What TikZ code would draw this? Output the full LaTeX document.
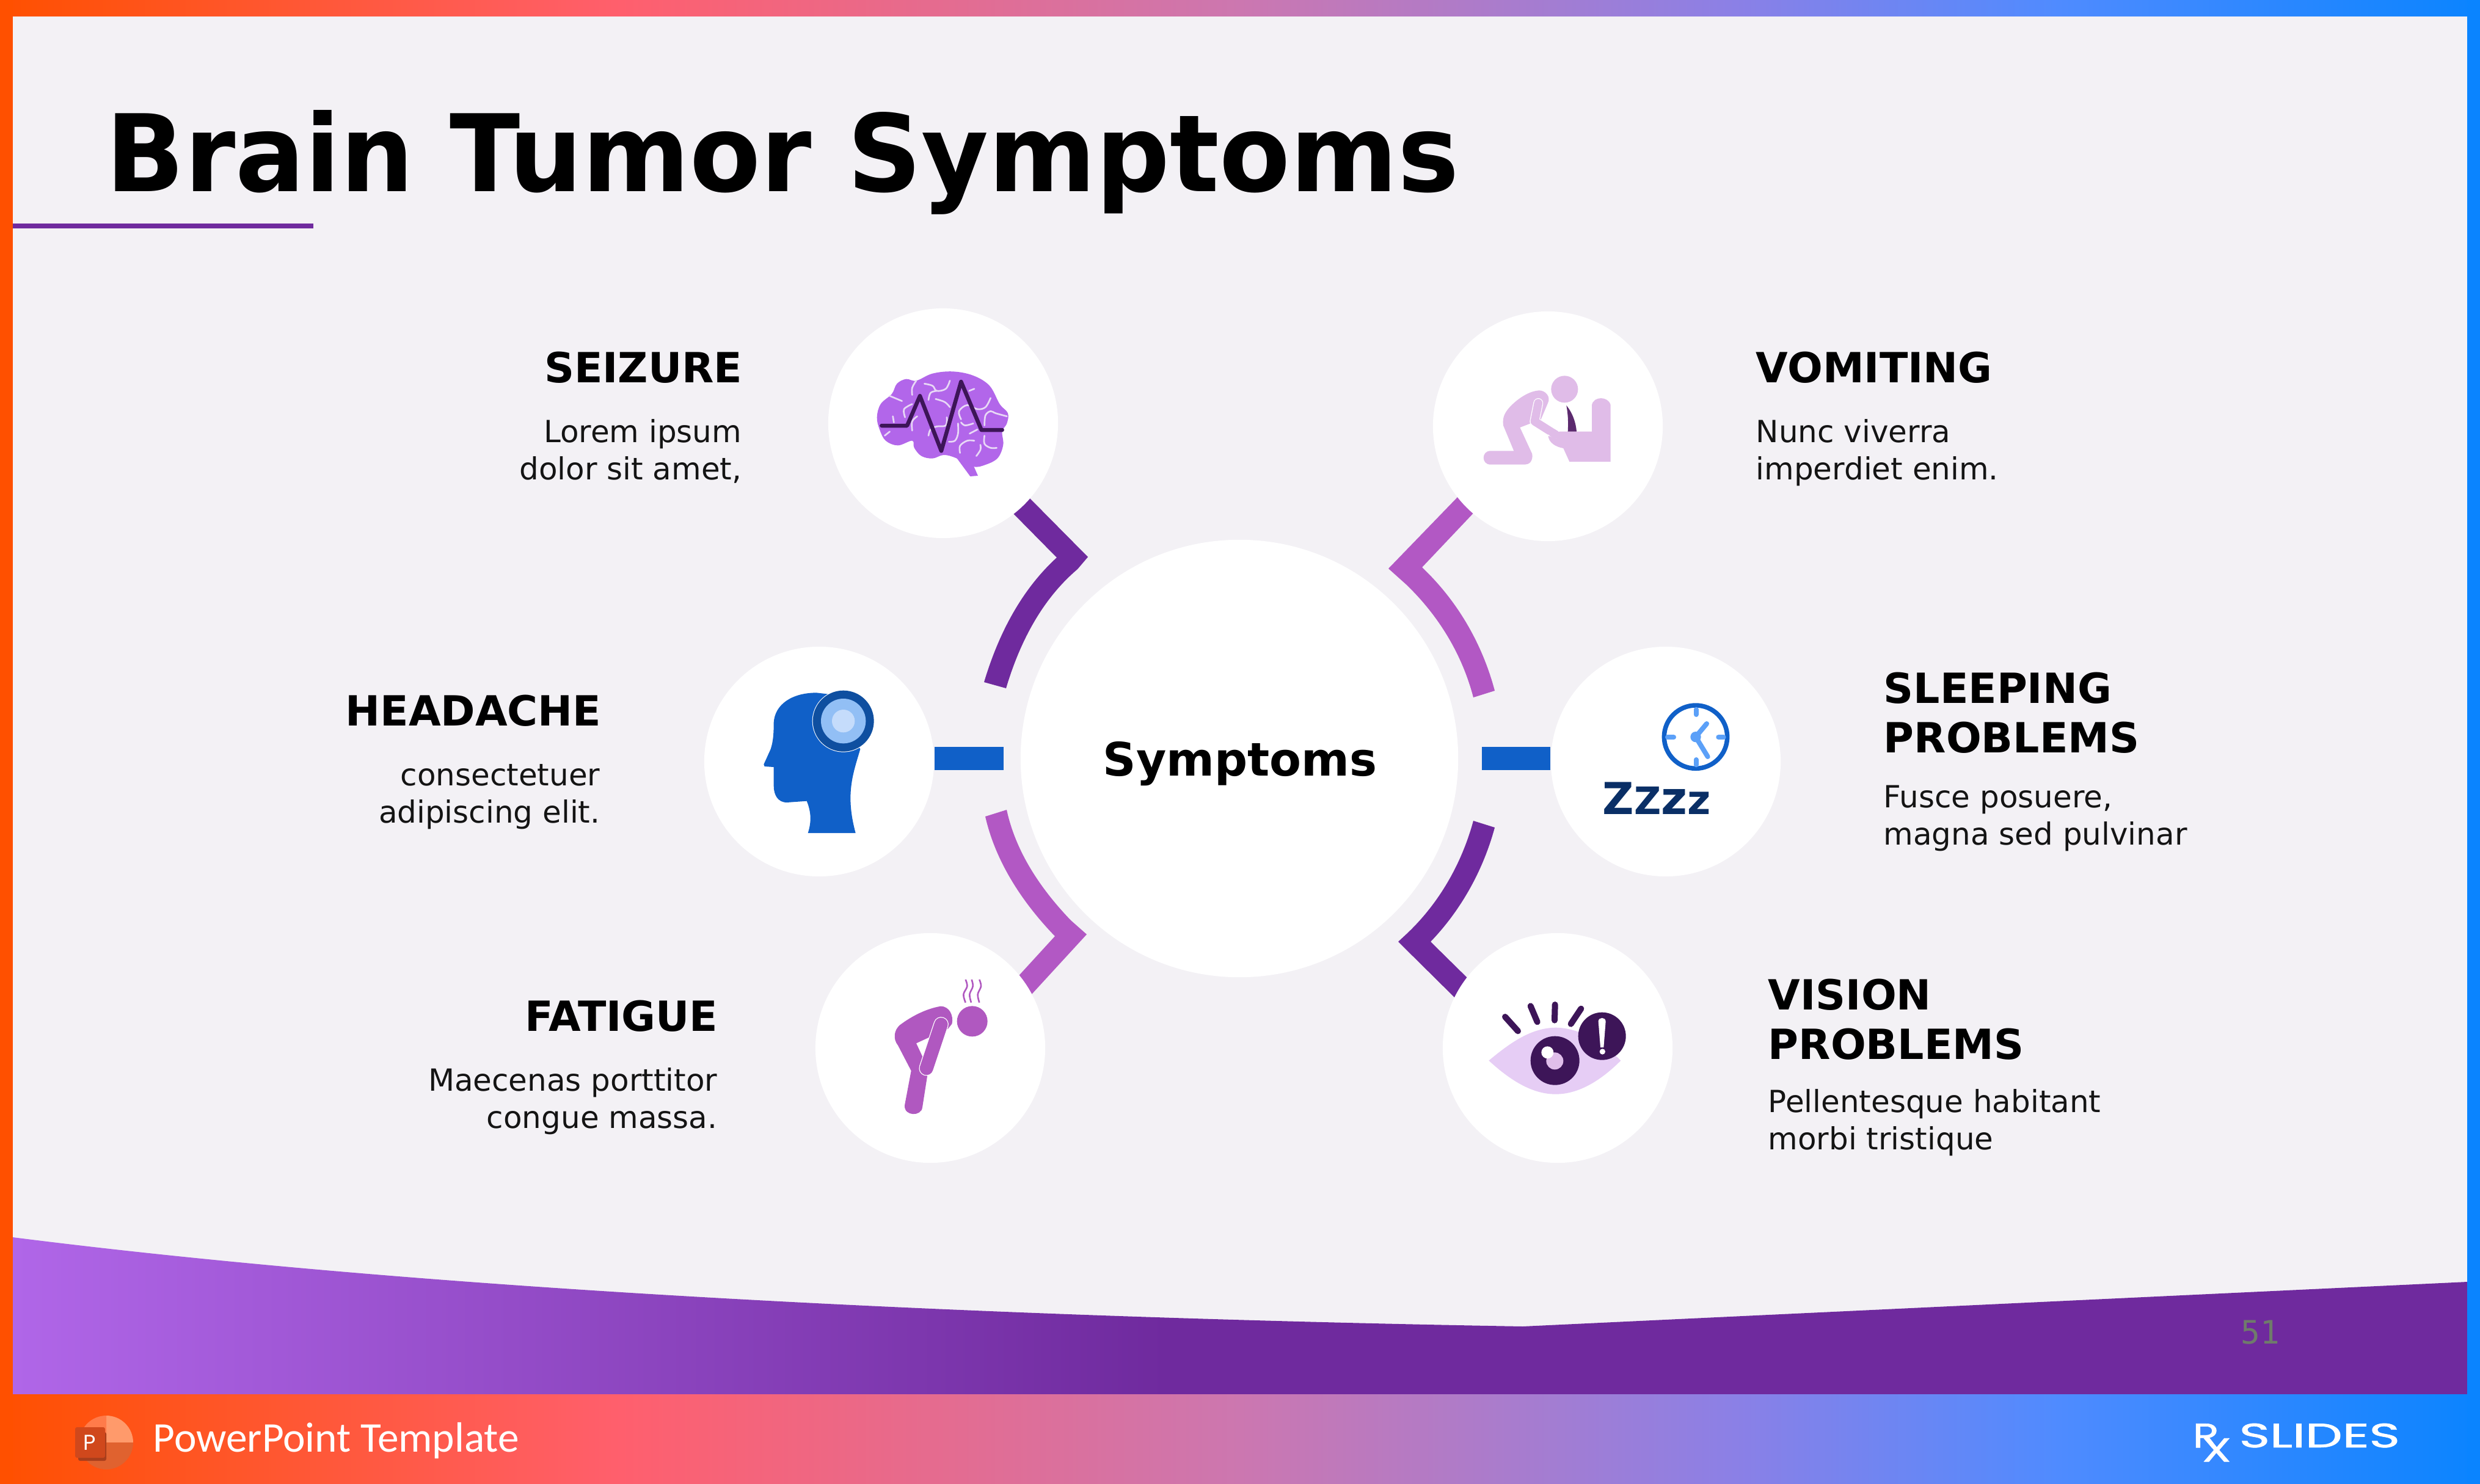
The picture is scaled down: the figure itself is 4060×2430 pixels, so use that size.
\documentclass[tikz,border=0pt]{standalone}
\usepackage{fontspec}
\usepackage{graphicx}
\setmainfont{DejaVu Sans}
\newfontfamily\footfont{Carlito}
\newfontfamily\logofont{Poppins}
\newfontfamily\logoheavy[FakeBold=1.2]{Poppins}
\newfontfamily\pagefont{DejaVu Sans Mono}
\definecolor{pageBg}{HTML}{F3F1F5}
\definecolor{deepPurple}{HTML}{6F2A9E}
\definecolor{midPurple}{HTML}{B258C4}
\definecolor{midBlue}{HTML}{1060C8}
\definecolor{brainPurple}{HTML}{B266EA}
\definecolor{darkPlum}{HTML}{3D1558}
\definecolor{paleMauve}{HTML}{E0BCE8}
\definecolor{vomitPlum}{HTML}{5C2A6E}
\definecolor{wrinkle}{HTML}{E8D8F6}
\definecolor{lensDark}{HTML}{0F4FA0}
\definecolor{lensMid}{HTML}{92BFF5}
\definecolor{lensPale}{HTML}{C5DCFB}
\definecolor{clockLight}{HTML}{5BA0F8}
\definecolor{zzzNavy}{HTML}{0A2F66}
\definecolor{fatiguePurple}{HTML}{B058C0}
\definecolor{eyePale}{HTML}{E6CDF5}
\definecolor{pupilPale}{HTML}{E0BEEA}
\definecolor{pageGrey}{HTML}{6F7B6B}
\definecolor{barA}{HTML}{FF5000}
\definecolor{barB}{HTML}{FF5F6D}
\definecolor{barC}{HTML}{CC77B0}
\definecolor{barD}{HTML}{8B80E6}
\definecolor{barE}{HTML}{4F8BFF}
\definecolor{barF}{HTML}{0A84FF}
\definecolor{waveA}{HTML}{B066E8}
\definecolor{pptUR}{HTML}{FF9A6B}
\definecolor{pptUL}{HTML}{FF7B4A}
\definecolor{pptLow}{HTML}{E0622F}
\definecolor{pptSq}{HTML}{D0481C}
\definecolor{pptShadow}{HTML}{A83E1C}
\pgfdeclarehorizontalshading{rxbar}{100bp}{color(0bp)=(barA); color(25bp)=(barA); color(37.5bp)=(barB); color(50bp)=(barC); color(60bp)=(barD); color(66.5bp)=(barE); color(75bp)=(barF); color(100bp)=(barF)}
\pgfdeclarehorizontalshading{rxwave}{100bp}{color(0bp)=(waveA); color(25bp)=(waveA); color(48.5bp)=(deepPurple); color(100bp)=(deepPurple)}
\tikzset{
  bubble/.style={circle,fill=white,minimum size=3.76cm,inner sep=0pt},
  hubdisc/.style={circle,fill=white,minimum size=7.16cm,inner sep=0pt},
  symhead/.style={inner sep=0pt,font=\fontsize{19.35}{22.76}\selectfont\bfseries,text=black},
  symbody/.style={inner sep=0pt,font=\fontsize{14.2}{17.07}\selectfont,text=black!92},
  barline/.style={line width=0.38cm,midBlue},
  wrinkleline/.style={wrinkle,line width=0.027cm,line cap=round},
  smoothline/.style={smooth,tension=.6},
}
\begin{document}
\begin{tikzpicture}[x=0.01cm,y=0.01cm,yscale=-1]
\useasboundingbox (0,0) rectangle (4060,2430);
% frame
\fill[pageBg] (0,0) rectangle (4060,2430);
\shade[shading=rxwave] (21,2026) .. controls (800,2125) and (1800,2160) .. (2493,2172) -- (4039,2099) -- (4039,2290) -- (21,2290) -- cycle;
\shade[shading=rxbar] (0,0) rectangle (4060,26);
\shade[shading=rxbar] (0,2283) rectangle (4060,2430);
\fill[barA] (0,0) rectangle (21,2430);
\fill[barF] (4039,0) rectangle (4060,2430);
% title
\node[anchor=base west,inner sep=0pt,font=\fontsize{49.8}{58}\selectfont\bfseries] (title) at (173,313) {\scalebox{.964}[1]{Brain Tumor Symptoms}};
\fill[deepPurple] (21,366) rectangle (513,374);
% chevrons, named points
\coordinate (sA) at (1680,810); \coordinate (sT) at (1781,912); \coordinate (sS) at (1764,932);
\coordinate (sE) at (1647,1127); \coordinate (sF) at (1611,1117); \coordinate (sN) at (1730,913); \coordinate (sB) at (1654,836);
\fill[deepPurple] (sA) -- (sT) -- (sS) .. controls (1705,982) and (1669,1053) .. (sE) -- (sF) .. controls (1634,1040) and (1671,967) .. (sN) -- (sB) -- cycle;
\coordinate (vA) at (2390,810); \coordinate (vT) at (2273,931); \coordinate (vS) at (2302,957);
\coordinate (vE) at (2412,1142); \coordinate (vF) at (2447,1131); \coordinate (vN) at (2328,929); \coordinate (vB) at (2417,835);
\fill[midPurple] (vA) -- (vT) -- (vS) .. controls (2355,1008) and (2393.5,1071) .. (vE) -- (vF) .. controls (2426.5,1054) and (2386,984) .. (vN) -- (vB) -- cycle;
\coordinate (fA) at (1662,1604); \coordinate (fT) at (1779,1530); \coordinate (fS) at (1753,1507);
\coordinate (fE) at (1648,1326); \coordinate (fF) at (1613,1337); \coordinate (fN) at (1727,1533); \coordinate (fB) at (1689,1628);
\fill[midPurple] (fB) -- (fT) -- (fS) .. controls (1704,1456) and (1663,1395.5) .. (fE) -- (fF) .. controls (1630,1411.6) and (1674,1478) .. (fN) -- (fA) -- cycle;
\coordinate (oA) at (2409,1608); \coordinate (oT) at (2289,1542); \coordinate (oS) at (2303,1529);
\coordinate (oE) at (2412,1344); \coordinate (oF) at (2447,1355); \coordinate (oN) at (2342,1542); \coordinate (oB) at (2388,1640);
\fill[deepPurple] (oB) -- (oT) -- (oS) .. controls (2356,1479) and (2393,1414) .. (oE) -- (oF) .. controls (2428,1425) and (2392,1490) .. (oN) -- (oA) -- cycle;
% discs
\node[hubdisc] (hub) at (2029,1242) {};
\node[bubble] (seizure) at (1544,693) {};
\node[bubble] (vomiting) at (2534,698) {};
\node[bubble] (headache) at (1341,1247) {};
\node[bubble] (sleeping) at (2727,1247) {};
\node[bubble] (fatigue) at (1523,1716) {};
\node[bubble] (vision) at (2550,1716) {};
% straight connectors
\draw[barline] (headache.east |- hub.west) -- ([xshift=-0.27cm]hub.west);
\draw[barline] (sleeping.west |- hub.east) -- ([xshift=0.38cm]hub.east);
% hub label
\node[anchor=base,inner sep=0pt,font=\fontsize{21.5}{26}\selectfont\bfseries] (hublabel) at (2030,1270) {Symptoms};
% labels
\node[symhead,anchor=base east] (t1) at (1216,626) {SEIZURE};
\node[symbody,anchor=base east,align=right] (b1) at (1215,785) {Lorem ipsum\\dolor sit amet,};
\node[symhead,anchor=base east] (t2) at (985,1188) {HEADACHE};
\node[symbody,anchor=base east,align=right] (b2) at (983,1347) {consectetuer\\adipiscing elit.};
\node[symhead,anchor=base east] (t3) at (1176,1688) {FATIGUE};
\node[symbody,anchor=base east,align=right] (b3) at (1175,1847) {Maecenas porttitor\\congue massa.};
\node[symhead,anchor=base west] (t4) at (2874,626) {VOMITING};
\node[symbody,anchor=base west,align=left] (b4) at (2874,785) {Nunc viverra\\imperdiet enim.};
\node[symhead,anchor=base west,align=left] (t5) at (3083,1232) {SLEEPING\\PROBLEMS};
\node[symbody,anchor=base west,align=left] (b5) at (3083,1383) {Fusce posuere,\\magna sed pulvinar};
\node[symhead,anchor=base west,align=left] (t6) at (2894,1734) {VISION\\PROBLEMS};
\node[symbody,anchor=base west,align=left] (b6) at (2894,1882) {Pellentesque habitant\\morbi tristique};
% brain icon
\begin{scope}[shift={(1300,480)},scale=1/3]
\fill[brainPurple] plot[smooth cycle,tension=.6] coordinates {(600,430) (680,395) (780,385) (880,405) (960,455) (1010,545) (1050,590) (1045,640) (1022,680) (1027,745) (1000,810) (940,843) (880,852) (795,810) (735,795) (680,812) (625,800) (590,760) (580,725) (510,748) (450,725) (420,670) (407,610) (425,545) (480,495) (505,445) (550,422)};
\fill[brainPurple] (795,805) -- (865,900) -- (903,897) -- (880,845) -- (840,795) -- cycle;
\draw[wrinkleline] plot[smoothline] coordinates {(580,500) (580,465) (600,430)};
\draw[wrinkleline] plot[smoothline] coordinates {(470,505) (530,530)};
\draw[wrinkleline] plot[smoothline] coordinates {(640,445) (680,455) (700,480) (745,470) (765,430)};
\draw[wrinkleline] plot[smoothline] coordinates {(660,525) (670,490) (700,480)};
\draw[wrinkleline] plot[smoothline] coordinates {(695,520) (740,535) (765,560)};
\draw[wrinkleline] plot[smoothline] coordinates {(885,470) (860,480)};
\draw[wrinkleline] plot[smoothline] coordinates {(545,610) (540,570) (580,545)};
\draw[wrinkleline] plot[smoothline] coordinates {(485,605) (490,635)};
\draw[wrinkleline] plot[smoothline] coordinates {(445,700) (470,680)};
\draw[wrinkleline] plot[smoothline] coordinates {(580,675) (580,630) (605,605)};
\draw[wrinkleline] plot[smoothline] coordinates {(660,700) (670,670) (700,655) (745,650) (750,610)};
\draw[wrinkleline] plot[smoothline] coordinates {(820,620) (810,580) (850,550) (900,570) (940,560) (965,515)};
\draw[wrinkleline] plot[smoothline] coordinates {(1045,605) (990,590) (965,580) (940,600) (935,650)};
\draw[wrinkleline] plot[smoothline] coordinates {(820,635) (840,650) (880,640)};
\draw[wrinkleline] plot[smoothline] coordinates {(862,690) (900,670)};
\draw[wrinkleline] plot[smoothline] coordinates {(760,730) (790,725) (805,690) (805,640)};
\draw[wrinkleline] plot[smoothline] coordinates {(815,785) (815,750) (850,725) (885,725)};
\draw[wrinkleline] plot[smoothline] coordinates {(895,800) (915,770) (915,745)};
\draw[wrinkleline] plot[smoothline] coordinates {(935,700) (935,740) (965,760) (995,760)};
\draw[darkPlum,line width=0.065cm,line cap=round,line join=round] (430,651) -- (555,651) -- (618,505) -- (723,775) -- (820,435) -- (920,672) -- (1022,672);
\end{scope}
% vomiting icon
\begin{scope}[shift={(2300,480)},scale=1/3]
\fill[paleMauve] (784,472) circle[radius=66];
\fill[paleMauve] (660,478) .. controls (690,478) and (718,510) .. (702,540) -- (668,620) -- (565,660) -- (625,790) .. controls (630,825) and (610,842) .. (590,842) -- (420,842) .. controls (375,842) and (375,775) .. (420,775) -- (535,775) -- (483,650) .. controls (478,610) and (490,590) .. (510,565) .. controls (550,520) and (610,480) .. (660,478) -- cycle;
\draw[white,line width=0.16cm,line cap=round,line join=round] (655,540) -- (637,630) -- (740,695);
\draw[paleMauve,line width=0.135cm,line cap=round,line join=round] (655,540) -- (637,630) -- (740,695);
\fill[paleMauve] (918,680) -- (918,550) .. controls (925,505) and (1000,505) .. (1010,550) -- (1010,828) -- (808,828) -- (778,762) .. controls (740,755) and (705,735) .. (703,697) -- (760,680) -- cycle;
\draw[white,line width=0.02cm] (703,697) -- (745,712);
\draw[paleMauve,line width=0.135cm,line cap=round] (725,686) -- (740,695);
\fill[vomitPlum] (793,552) .. controls (825,590) and (840,640) .. (843,680) -- (800,680) .. controls (803,630) and (800,590) .. (793,552) -- cycle;
\end{scope}
% headache icon
\begin{scope}[shift={(1130,1040)},scale=1/3]
\fill[midBlue] (578,972) .. controls (595,920) and (595,870) .. (572,815) -- (475,822) .. controls (430,822) and (410,785) .. (410,740) -- (410,648) -- (365,645) -- (361,635) -- (395,560) .. controls (408,520) and (410,480) .. (410,430) .. controls (415,340) and (500,283) .. (620,283) -- (680,290) -- (835,560) .. controls (800,680) and (760,780) .. (812,972) -- cycle;
\fill[white] (752,422) circle[radius=153];
\fill[lensDark] (752,422) circle[radius=150];
\fill[lensMid] (752,422) circle[radius=110];
\fill[lensPale] (752,422) circle[radius=56];
\end{scope}
% sleeping icon
\begin{scope}[shift={(2530,1040)},scale=1/3]
\draw[midBlue,line width=0.075cm] (738,500) circle[radius=155];
\draw[clockLight,line width=0.08cm,line cap=round] (740,365) -- (740,390);
\draw[clockLight,line width=0.08cm,line cap=round] (740,612) -- (740,637);
\draw[clockLight,line width=0.08cm,line cap=round] (600,502) -- (630,502);
\draw[clockLight,line width=0.08cm,line cap=round] (850,502) -- (875,502);
\draw[clockLight,line width=0.08cm,line cap=round] (738,500) -- (792,435);
\draw[clockLight,line width=0.08cm,line cap=round] (738,500) -- (797,597);
\fill[clockLight] (738,500) circle[radius=26];
\end{scope}
\node[anchor=base west,inner sep=0pt,text=zzzNavy,font=\bfseries] (zzz) at (2623,1333) {\scalebox{.985}[1]{{\fontsize{20.5}{24}\selectfont Z}{\fontsize{17.6}{24}\selectfont Z}{\fontsize{21.3}{24}\selectfont z}{\fontsize{19}{24}\selectfont z}}};
% fatigue icon
\begin{scope}[shift={(1320,1520)},scale=1/3]
\fill[fatiguePurple] (815,457) circle[radius=75];
\fill[fatiguePurple] (660,383) .. controls (700,383) and (725,425) .. (715,470) -- (695,495) -- (605,535) -- (540,565) -- (575,640) -- (595,720) -- (570,880) .. controls (565,925) and (480,925) .. (483,870) -- (515,700) -- (450,575) .. controls (425,545) and (430,500) .. (460,475) .. controls (520,430) and (590,395) .. (660,383) -- cycle;
\draw[white,line width=0.245cm,line cap=round] (662,472) -- (590,688);
\draw[fatiguePurple,line width=0.22cm,line cap=round] (662,472) -- (590,688);
\draw[fatiguePurple,line width=0.026cm] plot[smoothline] coordinates {(782,252) (790,285) (772,325) (782,365)};
\draw[fatiguePurple,line width=0.026cm] plot[smoothline] coordinates {(812,252) (818,285) (802,325) (810,365)};
\draw[fatiguePurple,line width=0.026cm] plot[smoothline] coordinates {(850,252) (858,285) (842,325) (850,365)};
\end{scope}
% vision icon
\begin{scope}[shift={(2350,1520)},scale=1/3]
\fill[eyePale] (262,650) .. controls (370,560) and (470,490) .. (590,488) .. controls (720,490) and (830,570) .. (910,650) .. controls (820,740) and (710,815) .. (590,815) .. controls (470,815) and (360,740) .. (262,650) -- cycle;
\fill[darkPlum] (587,650) circle[radius=120];
\fill[pupilPale] (586,652) circle[radius=42];
\fill[white] (550,610) circle[radius=30];
\fill[darkPlum] (818,530) circle[radius=117];
\fill[white] (800,458) .. controls (800,435) and (836,435) .. (836,458) -- (826,585) -- (810,585) -- cycle;
\fill[white] (820,606) circle[radius=14];
\draw[darkPlum,line width=0.1cm,line cap=round] (342,435) -- (405,505);
\draw[darkPlum,line width=0.1cm,line cap=round] (467,382) -- (500,460);
\draw[darkPlum,line width=0.1cm,line cap=round] (587,375) -- (585,452);
\draw[darkPlum,line width=0.1cm,line cap=round] (715,395) -- (665,470);
\end{scope}
% page number
\node[anchor=base west,inner sep=0pt,text=pageGrey,font=\pagefont\fontsize{15}{18}\selectfont] (page) at (3668,2200) {51};
% footer
\fill[pptUR] (174,2362) -- (174,2318) arc[start angle=-90,end angle=0,radius=44] -- cycle;
\fill[pptUL] (174,2362) -- (130,2362) arc[start angle=180,end angle=270,radius=44] -- cycle;
\fill[pptLow] (130,2362) arc[start angle=180,end angle=0,radius=44] -- cycle;
\fill[pptShadow,rounded corners=0.03cm] (128,2345) rectangle (174,2392);
\fill[pptSq,rounded corners=0.03cm] (123,2337) rectangle (172,2387);
\node[inner sep=0pt,text=white,font=\logofont\fontsize{10}{12}\selectfont] (ppticon) at (147,2362) {P};
\node[anchor=base west,inner sep=0pt,text=white,font=\footfont\fontsize{19.7}{23}\selectfont] (foot) at (250,2377) {PowerPoint Template};
% logo
\node[anchor=south west,inner sep=0pt,text=white] (logoR) at (3589,2371) {\resizebox{0.43cm}{0.39cm}{\logoheavy R}};
\node[anchor=south west,inner sep=0pt,text=white] (logoX) at (3604,2394) {\resizebox{0.48cm}{0.38cm}{\logoheavy X}};
\node[anchor=south west,inner sep=0pt,text=white] (logoS) at (3665,2371) {\resizebox{2.63cm}{0.39cm}{\logoheavy SLIDES}};
\end{tikzpicture}
\end{document}
